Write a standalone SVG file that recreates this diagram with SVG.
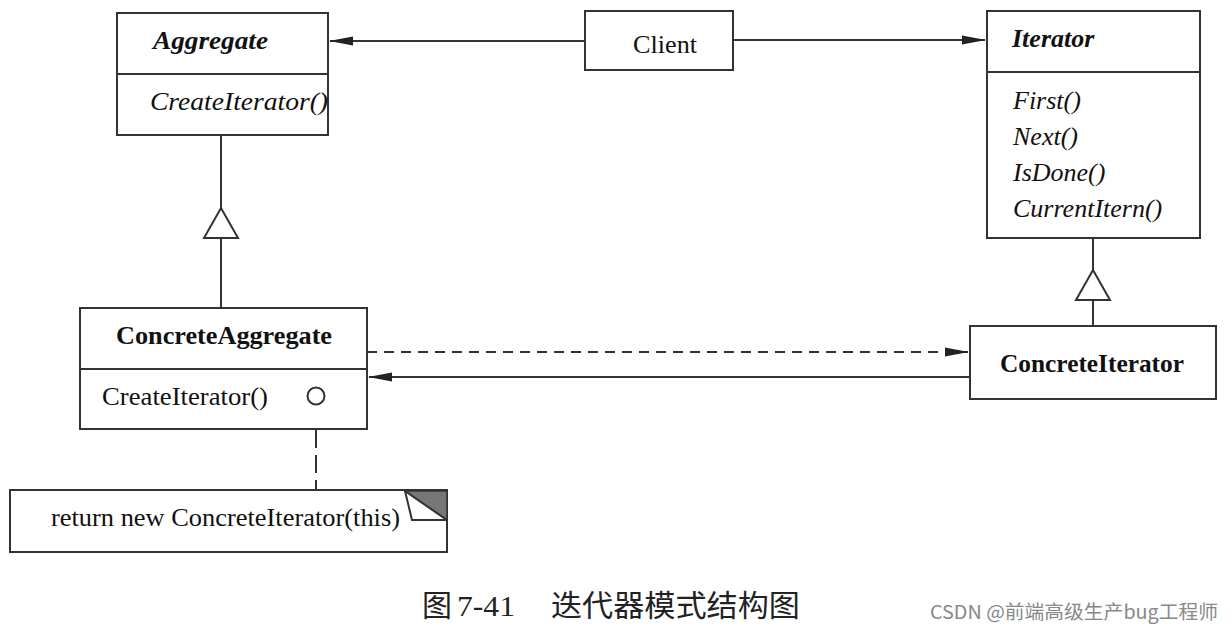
<svg xmlns="http://www.w3.org/2000/svg" width="1232" height="634" viewBox="0 0 1232 634">
<defs>
<style>
.box{fill:#fff;stroke:#333;stroke-width:2}
.ln{fill:none;stroke:#333;stroke-width:2}
.t{font-family:"Liberation Serif","Times New Roman",serif;font-size:26px;fill:#111}
.b{font-weight:bold}
.i{font-style:italic}
.cap{font-family:"Liberation Serif","Noto Sans CJK SC",serif;font-size:30px;fill:#222}
.wm{font-family:"Noto Sans CJK SC","Liberation Sans",sans-serif;font-size:19px;fill:#888}
</style>
<marker id="arr" markerWidth="24" markerHeight="12" refX="23" refY="6" orient="auto" markerUnits="userSpaceOnUse">
<path d="M0,1.5 L24,6 L0,10.5 Z" fill="#222"/>
</marker>
</defs>
<rect width="1232" height="634" fill="#fff"/>

<g id="connectors">
<line class="ln" x1="585" y1="41" x2="330" y2="41" marker-end="url(#arr)"/>
<line class="ln" x1="733" y1="40" x2="985" y2="40" marker-end="url(#arr)"/>
<line class="ln" x1="221" y1="135" x2="221" y2="208"/>
<polygon class="box" points="221,208 238,238 204,238"/>
<line class="ln" x1="221" y1="238" x2="221" y2="308"/>
<line class="ln" x1="1093" y1="238" x2="1093" y2="270"/>
<polygon class="box" points="1093,270 1110,300 1076,300"/>
<line class="ln" x1="1093" y1="300" x2="1093" y2="326"/>
<line class="ln" x1="367" y1="352" x2="968" y2="352" stroke-dasharray="10 7" marker-end="url(#arr)"/>
<line class="ln" x1="970" y1="377" x2="369" y2="377" marker-end="url(#arr)"/>
<line class="ln" x1="316" y1="405" x2="316" y2="490" stroke-dasharray="18 7"/>
</g>

<g id="aggregate">
<rect class="box" x="117" y="13" width="211" height="122"/>
<line class="ln" x1="117" y1="74" x2="328" y2="74"/>
<text class="t b i" x="153" y="49" textLength="115" lengthAdjust="spacingAndGlyphs">Aggregate</text>
<text class="t i" x="150" y="110" textLength="178" lengthAdjust="spacingAndGlyphs">CreateIterator()</text>
</g>

<g id="client">
<rect class="box" x="585" y="11" width="148" height="59"/>
<text class="t" x="633" y="53" textLength="64" lengthAdjust="spacingAndGlyphs">Client</text>
</g>

<g id="iterator">
<rect class="box" x="987" y="11" width="213" height="227"/>
<line class="ln" x1="987" y1="72" x2="1200" y2="72"/>
<text class="t b i" x="1012" y="47">Iterator</text>
<text class="t i" x="1013" y="109">First()</text>
<text class="t i" x="1013" y="145">Next()</text>
<text class="t i" x="1013" y="181">IsDone()</text>
<text class="t i" x="1013" y="217">CurrentItern()</text>
</g>

<g id="concreteAggregate">
<rect class="box" x="80" y="308" width="287" height="121"/>
<line class="ln" x1="80" y1="369" x2="367" y2="369"/>
<text class="t b" x="116" y="344" textLength="216" lengthAdjust="spacingAndGlyphs">ConcreteAggregate</text>
<text class="t" x="102" y="405" textLength="166" lengthAdjust="spacingAndGlyphs">CreateIterator()</text>
<circle class="box" cx="316" cy="396" r="8.5"/>
</g>

<g id="concreteIterator">
<rect class="box" x="970" y="326" width="246" height="73"/>
<text class="t b" x="1000" y="372" textLength="184" lengthAdjust="spacingAndGlyphs">ConcreteIterator</text>
</g>

<g id="note">
<rect class="box" x="10" y="490" width="437" height="62"/>
<polygon points="405,491 447,491 447,520" fill="#777" stroke="#333" stroke-width="1.5"/>
<polyline class="ln" points="405,491 412,520 447,520" stroke-width="1.5"/>
<line class="ln" x1="405" y1="491" x2="447" y2="520" stroke-width="1.5"/>
<text class="t" x="51" y="526" textLength="349" lengthAdjust="spacingAndGlyphs">return new ConcreteIterator(this)</text>
</g>

<g id="caption">
<text class="cap" x="422" y="616">图</text>
<text class="cap" x="457" y="616" textLength="58" lengthAdjust="spacingAndGlyphs">7-41</text>
<text class="cap" x="551" y="616" textLength="249" lengthAdjust="spacingAndGlyphs">迭代器模式结构图</text>
<text class="wm" x="930" y="619" textLength="288" lengthAdjust="spacingAndGlyphs">CSDN @前端高级生产bug工程师</text>
</g>
</svg>
